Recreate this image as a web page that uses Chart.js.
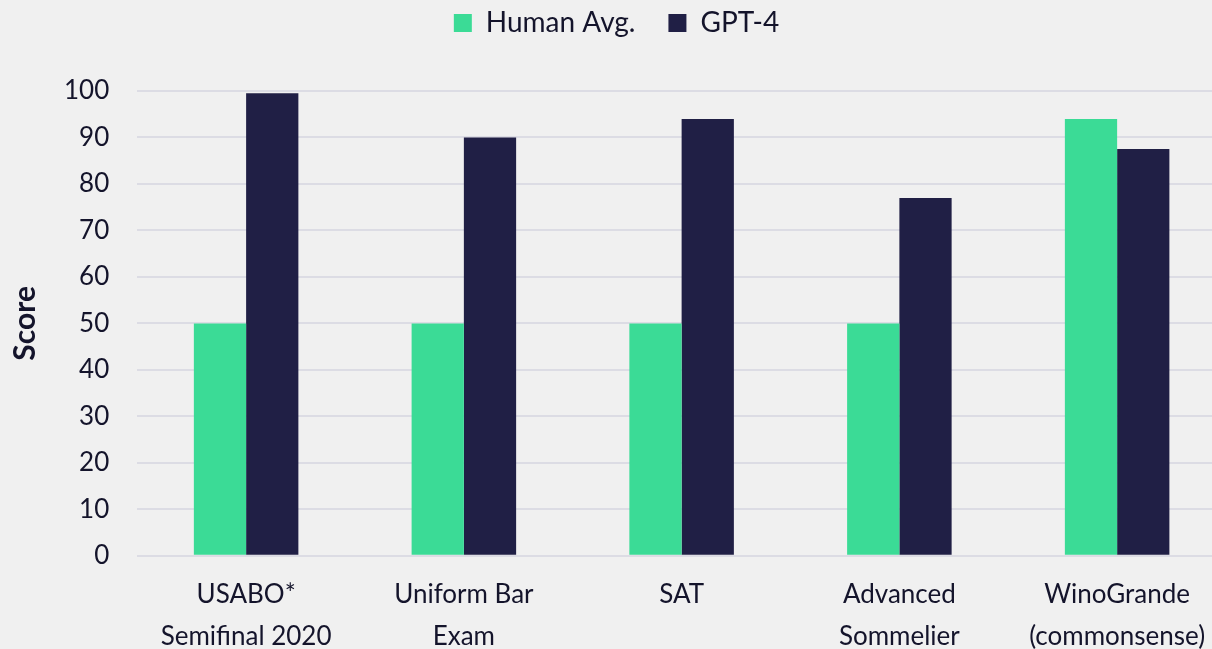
<!DOCTYPE html>
<html>
<head>
<meta charset="utf-8">
<script src="https://cdn.jsdelivr.net/npm/chart.js@4"></script>
<style>
  html, body { margin: 0; padding: 0; background: #f0f0f0; overflow: hidden; width: 1212px; height: 649px; }
  canvas { display: block; }
</style>
</head>
<body>
<canvas id="scoreChart" width="1240" height="675"></canvas>
<script>
// Dados do gráfico
const categorias = [
    ['USABO*', 'Semifinal 2020'],
    ['Uniform Bar', 'Exam'],
    'SAT',
    ['Advanced', 'Sommelier'],
    ['WinoGrande', '(commonsense)']
];
const humanAvg = [50, 50, 50, 50, 94];
const gpt4 = [99.5, 90, 94, 77, 87.5];
const yTicks = [0, 10, 20, 30, 40, 50, 60, 70, 80, 90, 100];

const FONTE = 'Lato, "Open Sans", sans-serif';
const COR_TEXTO = '#14142b';

// Espaço extra entre a legenda e a área do gráfico
const espacoLegenda = {
    id: 'espacoLegenda',
    afterInit(chart) {
        const fitOriginal = chart.legend.fit;
        chart.legend.fit = function () {
            fitOriginal.call(this);
            this.height += 44;
        };
    }
};

const ctx = document.getElementById('scoreChart').getContext('2d');

const scoreChart = new Chart(ctx, {
    type: 'bar',
    data: {
        labels: categorias,
        datasets: [
            {
                label: 'Human Avg.',
                data: humanAvg,
                backgroundColor: '#3bdb96',
                categoryPercentage: 0.48,
                barPercentage: 1.0
            },
            {
                label: 'GPT-4',
                data: gpt4,
                backgroundColor: '#201f45',
                categoryPercentage: 0.48,
                barPercentage: 1.0
            }
        ]
    },
    plugins: [espacoLegenda],
    options: {
        responsive: false,
        animation: false,
        devicePixelRatio: 1,
        layout: { padding: { left: 7, right: 14, top: -24, bottom: 0 } },
        plugins: {
            legend: {
                display: true,
                position: 'top',
                labels: {
                    boxWidth: 18,
                    boxHeight: 18,
                    padding: 33,
                    color: COR_TEXTO,
                    font: { family: FONTE, size: 28 }
                }
            },
            tooltip: { enabled: false }
        },
        scales: {
            x: {
                grid: { display: false, drawTicks: false },
                border: { display: false },
                ticks: {
                    color: COR_TEXTO,
                    padding: 18,
                    maxRotation: 0,
                    autoSkip: false,
                    font: { family: FONTE, size: 26, lineHeight: 1.6 }
                }
            },
            y: {
                min: 0,
                max: 100,
                afterBuildTicks: (axis) => { axis.ticks = yTicks.map(v => ({ value: v })); },
                grid: { color: '#dcdce4', lineWidth: 2, drawTicks: false },
                border: { display: false },
                ticks: {
                    color: COR_TEXTO,
                    padding: 28,
                    font: { family: FONTE, size: 26 }
                },
                title: {
                    display: true,
                    text: 'Score',
                    color: COR_TEXTO,
                    padding: { top: 0, bottom: -7 },
                    font: { family: FONTE, size: 30, weight: 'bold' }
                }
            }
        }
    }
});
</script>
</body>
</html>
